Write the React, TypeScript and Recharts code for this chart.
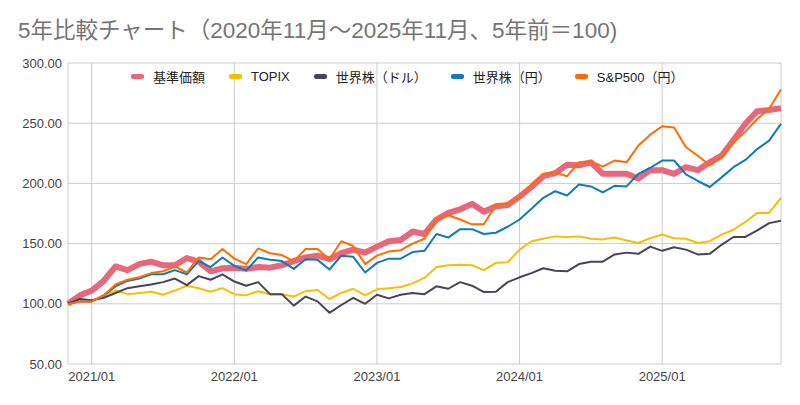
import React from "react";
import { LineChart, Line, XAxis, YAxis, CartesianGrid } from "recharts";

const months = [
  "2020/11", "2020/12",
  "2021/01", "2021/02", "2021/03", "2021/04", "2021/05", "2021/06", "2021/07", "2021/08", "2021/09", "2021/10", "2021/11", "2021/12",
  "2022/01", "2022/02", "2022/03", "2022/04", "2022/05", "2022/06", "2022/07", "2022/08", "2022/09", "2022/10", "2022/11", "2022/12",
  "2023/01", "2023/02", "2023/03", "2023/04", "2023/05", "2023/06", "2023/07", "2023/08", "2023/09", "2023/10", "2023/11", "2023/12",
  "2024/01", "2024/02", "2024/03", "2024/04", "2024/05", "2024/06", "2024/07", "2024/08", "2024/09", "2024/10", "2024/11", "2024/12",
  "2025/01", "2025/02", "2025/03", "2025/04", "2025/05", "2025/06", "2025/07", "2025/08", "2025/09", "2025/10", "2025/11"
];

// 基準価額
const fund = [
  100, 107, 111, 119, 131, 128, 133, 135, 132, 132, 138, 135, 127, 129.5,
  130, 129, 130.5, 130, 132, 135.5, 138.5, 140, 137, 142, 145, 142.5,
  147.5, 152, 153, 160, 158, 170, 175.5, 178.5, 183, 176.5, 181, 182,
  189, 197, 206, 208.5, 215.5, 215, 217.5, 208, 208, 208, 204, 211,
  211, 208, 213.5, 211, 217.5, 223, 236, 249.5, 260, 261, 262.5
];

const topix = [
  99.5, 102, 102, 107, 111, 108, 109, 110, 107.5, 111, 115, 113, 110, 113,
  108, 107, 110.5, 108, 108, 106, 110.5, 111.5, 104, 109, 112.5, 107,
  112, 113, 114, 117, 121.5, 130.5, 132, 132.5, 132, 128, 134, 134.5,
  145, 152, 154, 156, 155.5, 156, 154, 153.5, 155, 152.5, 150.5, 154.5,
  157.5, 154.5, 154, 150.5, 152, 157.5, 161.5, 168, 175.5, 175.5, 188
];

// 世界株（ドル）
const worldUsd = [
  100, 104, 103, 105, 109, 113, 114.5, 116, 118, 121, 115.5, 123, 120, 124.5,
  118.5, 115, 118, 108, 108, 98.5, 106, 102, 92.5, 99, 105, 100,
  107.5, 104.5, 107.5, 109, 108, 114.5, 112.5, 118, 115, 109.7, 110, 118,
  122, 125.5, 129.5, 127.5, 127, 133, 135, 135, 141, 142.5, 141.5, 147.5,
  144, 147, 145, 141, 141.5, 149, 155.5, 155.5, 161, 167, 169
];

// 世界株（円）
const worldJpy = [
  100, 102, 102, 107, 114.5, 119, 121, 124.5, 124.5, 128, 124.5, 135.5, 130.5, 138.5,
  131.5, 127.5, 138.5, 136.5, 135.5, 129, 137, 136.5, 128.5, 140, 139, 126,
  134, 137.5, 137.5, 143, 144, 158, 155, 162, 162, 158, 159, 164,
  170, 179, 188, 193.5, 190, 199, 197.5, 192.5, 198, 197.5, 208, 213,
  219, 219, 207.5, 202, 197, 205, 213.5, 219.5, 228.5, 235.5, 249.5
];

// S&P500（円）
const sp500 = [
  99.5, 102, 102, 107, 116, 120, 122, 125.5, 127, 131, 126, 138.5, 137, 145.5,
  137.5, 133, 146, 142, 140.5, 135.5, 145.5, 145.5, 137, 152, 148, 133,
  140, 143.5, 144.5, 150, 154, 170, 173.5, 170, 166, 166, 182, 183,
  188, 199, 208, 209, 206, 217.5, 218.5, 214, 219, 217.5, 231.5, 240.5,
  247.5, 246.5, 230, 223, 215, 222, 234, 243, 253.5, 262, 278
];

const xTicks = ["2021/01", "2022/01", "2023/01", "2024/01", "2025/01"];
const yTicks = [50, 100, 150, 200, 250, 300];

const series = [
  { key: "fund", name: "基準価額", color: "#e8677d", width: 6 },
  { key: "topix", name: "TOPIX", color: "#fbbc04", width: 2 },
  { key: "worldUsd", name: "世界株（ドル）", color: "#4a4259", width: 2 },
  { key: "worldJpy", name: "世界株（円）", color: "#0f7bbd", width: 2 },
  { key: "sp500", name: "S&P500（円）", color: "#ff6d01", width: 2 }
];

const rows = months.map((month, i) => ({
  month,
  fund: fund[i],
  topix: topix[i],
  worldUsd: worldUsd[i],
  worldJpy: worldJpy[i],
  sp500: sp500[i]
}));

const font = "'Liberation Sans', Arial, 'Noto Sans CJK JP', sans-serif";
const tickStyle = { fill: "#444444", fontSize: 13, fontFamily: font };

export default function App() {
  return (
    <div style={{ position: "relative", width: 800, height: 405, background: "#fff", fontFamily: font }}>
      <style>{"body{margin:0}"}</style>
      <div
        style={{
          position: "absolute",
          top: 19,
          left: 18,
          fontSize: 22.5,
          lineHeight: "24px",
          color: "#757575",
          whiteSpace: "nowrap"
        }}
      >
        5年比較チャート（2020年11月〜2025年11月、5年前＝100)
      </div>
      <LineChart width={800} height={405} data={rows} margin={{ top: 63, right: 19, bottom: 11, left: 0 }}>
        <CartesianGrid stroke="#cccccc" />
        <XAxis
          dataKey="month"
          ticks={xTicks}
          interval={0}
          tickLine={false}
          axisLine={false}
          tick={tickStyle}
          height={30}
        />
        <YAxis
          domain={[50, 300]}
          ticks={yTicks}
          width={68}
          tickFormatter={(v: number) => v.toFixed(2)}
          tickLine={false}
          axisLine={false}
          tickSize={6}
          tickMargin={0}
          tick={tickStyle}
        />
        {series.map((s) => (
          <Line
            key={s.key}
            dataKey={s.key}
            name={s.name}
            stroke={s.color}
            strokeWidth={s.width}
            dot={false}
            type="linear"
            strokeLinejoin="round"
            isAnimationActive={false}
          />
        ))}
      </LineChart>
      <div
        style={{
          position: "absolute",
          top: 68,
          left: 131,
          height: 16,
          display: "flex",
          alignItems: "center",
          gap: 24,
          fontSize: 13,
          color: "#222222",
          whiteSpace: "nowrap"
        }}
      >
        {series.map((s) => (
          <div key={s.key} style={{ display: "flex", alignItems: "center" }}>
            <span
              style={{
                display: "inline-block",
                width: 13,
                height: 5,
                borderRadius: 2,
                background: s.color,
                marginRight: 9
              }}
            />
            <span>{s.name}</span>
          </div>
        ))}
      </div>
    </div>
  );
}
